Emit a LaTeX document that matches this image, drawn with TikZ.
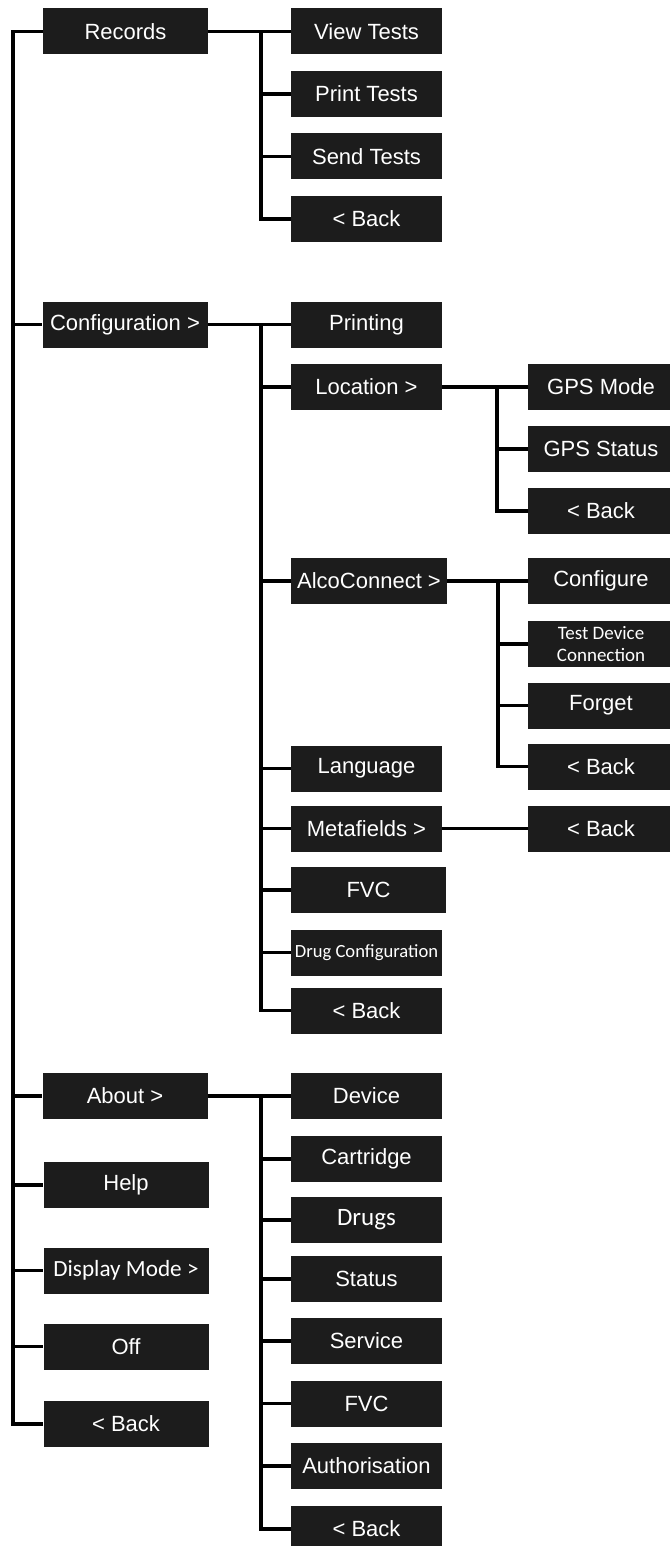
\documentclass[tikz,border=0pt]{standalone}
\usepackage{xcolor}
\usepackage{fontspec}
\setmainfont{Liberation Sans}
\newfontfamily\narrowfont{Carlito}
\usepackage{tikz}
\definecolor{boxfill}{HTML}{1C1C1C}
\tikzset{
  every picture/.style = {
    x = 0.5pt,
    y = -0.5pt,
  }
  ,
  menu-item/.style = {
    rectangle,
    fill = boxfill,
    text = white,
    font = \fontsize{11}{13}\selectfont,
    inner sep = 0pt,
    minimum width = 82.5pt,
    minimum height = 23pt
  }
  , % second column
  menu-sub/.style = {
    menu-item,
    minimum width = 75.5pt
  }
  , % third column
  menu-leaf/.style = {
    menu-item,
    minimum width = 73pt
  }
  , % labels set in the narrow face
  label-narrow/.style = {
    font = \narrowfont\fontsize{#1}{11}\selectfont,
    align = center
  }
  , % connectors
  menu-line/.style = {
    line width = 1.7pt,
    black
  }
}

\begin{document}
\begin{tikzpicture}
\useasboundingbox (0,0) rectangle (669,1546);

% main menu
\node[menu-item] at (125.5,31.5) (rec) {Records};
\node[menu-item] at (125,324.5) (cfg) {Configuration >};
\node[menu-item] at (125,1096) (abt) {About >};
\node[menu-item] at (126,1185) (hlp) {Help};
\node[menu-item, label-narrow=11.6] at (126,1270.5) (dsp) {Display Mode >};
\node[menu-item] at (126,1346.5) (off) {Off};
\node[menu-item] at (126,1424) (back-main) {< Back};

% records
\node[menu-sub] at (366.5,31.5) (view) {View Tests};
\node[menu-sub] at (366.5,94) (print) {Print Tests};
\node[menu-sub] at (366.5,156.5) (send) {Send Tests};
\node[menu-sub] at (366.5,219) (back-rec) {< Back};

% configuration
\node[menu-sub] at (366.5,324.5) (printing) {Printing};
\node[menu-sub] at (366.5,387) (loc) {Location >};
\node[menu-sub, minimum width=78pt] at (369,581) (alco) {AlcoConnect >};
\node[menu-sub] at (366.5,768.5) (lang) {Language};
\node[menu-sub] at (366.5,828.5) (meta) {Metafields >};
\node[menu-sub, minimum width=77.5pt] at (368.5,890) (fvc-cfg) {FVC};
\node[menu-sub, label-narrow=9.3] at (366.5,952.5) (drug-cfg) {Drug Configuration};
\node[menu-sub] at (366.5,1010.5) (back-cfg) {< Back};

% location, alcoconnect, metafields
\node[menu-leaf] at (601,387) (gps-mode) {GPS Mode};
\node[menu-leaf] at (601,449) (gps-stat) {GPS Status};
\node[menu-leaf] at (601,511) (back-loc) {< Back};
\node[menu-leaf] at (601,581) (conf) {Configure};
\node[menu-leaf, label-narrow=9.5] at (601,644) (test) {Test Device\\Connection};
\node[menu-leaf] at (601,705.5) (forget) {Forget};
\node[menu-leaf] at (601,766.5) (back-alco) {< Back};
\node[menu-leaf] at (601,828.5) (back-meta) {< Back};

% about
\node[menu-sub] at (366.5,1096) (dev) {Device};
\node[menu-sub] at (366.5,1159) (cart) {Cartridge};
\node[menu-sub, label-narrow=12.5] at (366.5,1220) (drugs) {Drugs};
\node[menu-sub] at (366.5,1279) (stat) {Status};
\node[menu-sub] at (366.5,1341) (serv) {Service};
\node[menu-sub] at (366.5,1403.5) (fvc-abt) {FVC};
\node[menu-sub] at (366.5,1466) (auth) {Authorisation};
\node[menu-sub] at (366.5,1529) (back-abt) {< Back};

% buses
\coordinate (main-bus) at (13,0);
\coordinate (sub-bus) at (261,0);
\coordinate (loc-bus) at (497,0);
\coordinate (alco-bus) at (498,0);

\draw[menu-line] (rec.west) -| (main-bus |- back-main.west) -- (back-main.west);
\foreach \n in {cfg,abt,hlp,dsp,off}
  \draw[menu-line] (main-bus |- \n.west) -- (\n.west);

\draw[menu-line] (rec.east) -- (view.west);
\draw[menu-line] (sub-bus |- rec.east) |- (back-rec.west);
\foreach \n in {print,send}
  \draw[menu-line] (sub-bus |- \n.west) -- (\n.west);

\draw[menu-line] (cfg.east) -- (printing.west);
\draw[menu-line] (sub-bus |- cfg.east) |- (back-cfg.west);
\foreach \n in {loc,alco,lang,meta,fvc-cfg,drug-cfg}
  \draw[menu-line] (sub-bus |- \n.west) -- (\n.west);

\draw[menu-line] (loc.east) -- (gps-mode.west);
\draw[menu-line] (loc-bus |- loc.east) |- (back-loc.west);
\draw[menu-line] (loc-bus |- gps-stat.west) -- (gps-stat.west);

\draw[menu-line] (alco.east) -- (conf.west);
\draw[menu-line] (alco-bus |- alco.east) |- (back-alco.west);
\foreach \n in {test,forget}
  \draw[menu-line] (alco-bus |- \n.west) -- (\n.west);

\draw[menu-line] (meta.east) -- (back-meta.west);

\draw[menu-line] (abt.east) -- (dev.west);
\draw[menu-line] (sub-bus |- abt.east) |- (back-abt.west);
\foreach \n in {cart,drugs,stat,serv,fvc-abt,auth}
  \draw[menu-line] (sub-bus |- \n.west) -- (\n.west);
\end{tikzpicture}
\end{document}
